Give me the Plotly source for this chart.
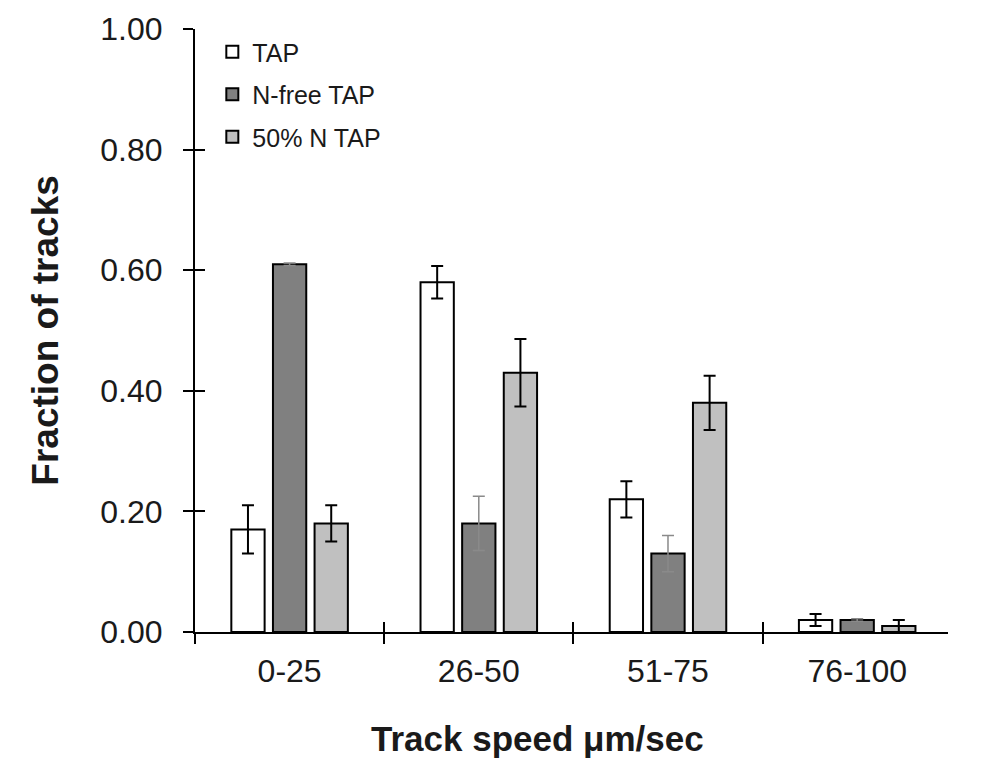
import plotly.graph_objs as go

categories = ["0-25", "26-50", "51-75", "76-100"]
series_names = ["TAP", "N-free TAP", "50% N TAP"]

tap_values = [0.17, 0.58, 0.22, 0.02]
tap_errors = [0.04, 0.027, 0.03, 0.01]

nfree_values = [0.61, 0.18, 0.13, 0.02]
nfree_errors = [0.002, 0.045, 0.03, 0.002]

half_values = [0.18, 0.43, 0.38, 0.01]
half_errors = [0.03, 0.056, 0.045, 0.01]

y_ticks = [0.0, 0.2, 0.4, 0.6, 0.8, 1.0]

FONT = "Liberation Sans, Arial, sans-serif"
TEXT = "#1a1a1a"
X_RANGE = [-0.5, 3.48]
Y_RANGE = [0, 1.0]


def get_bar(name, values, errors, fill, err_color, err_width):
    return go.Bar(
        x=categories, y=values, name=name, legendgroup=name,
        marker=dict(color=fill, line=dict(color="black", width=2)),
        error_y=dict(type="data", array=errors, visible=True,
                     color=err_color, thickness=err_width, width=6),
    )


fig = go.Figure()
fig.add_trace(get_bar(series_names[0], tap_values, tap_errors, "white", "black", 2))
fig.add_trace(get_bar(series_names[1], nfree_values, nfree_errors, "#808080", "#8a8a8a", 1.5))
fig.add_trace(get_bar(series_names[2], half_values, half_errors, "#c0c0c0", "black", 2))

# empty trace on the overlay axes, they only carry the inner half of the crossing ticks
fig.add_trace(go.Bar(x=categories, y=[0, 0, 0, 0], xaxis="x2", yaxis="y2",
                     showlegend=False, hoverinfo="skip",
                     marker=dict(color="rgba(0,0,0,0)", line=dict(width=0))))

tick_style = dict(ticklen=10, tickwidth=2, tickcolor="black")

fig.update_layout(
    width=1000, height=784,
    paper_bgcolor="white", plot_bgcolor="white",
    margin=dict(l=187, r=60, t=21, b=160, autoexpand=False),
    barmode="group", bargap=0.34, bargroupgap=0.2,
    font=dict(family=FONT, color=TEXT, size=24),
    showlegend=True,
    legend=dict(x=0.023, y=1.0, xanchor="left", yanchor="top",
                font=dict(size=25, color=TEXT),
                bgcolor="rgba(0,0,0,0)", tracegroupgap=7,
                itemwidth=30),
    xaxis=dict(
        type="category", range=X_RANGE, automargin=False,
        showline=True, linecolor="black", linewidth=2,
        ticks="outside", tickson="boundaries", **tick_style,
        tickfont=dict(size=32, color=TEXT), ticklabelstandoff=10,
        showgrid=False, zeroline=False,
    ),
    xaxis2=dict(
        type="category", range=X_RANGE, overlaying="x", anchor="y",
        showline=False, showticklabels=False, automargin=False,
        ticks="inside", tickson="boundaries", **tick_style,
        showgrid=False, zeroline=False,
    ),
    yaxis=dict(
        range=Y_RANGE, tickvals=y_ticks, tickformat=".2f", automargin=False,
        showline=True, linecolor="black", linewidth=2,
        ticks="outside", **tick_style,
        tickfont=dict(size=32, color=TEXT), ticklabelstandoff=14,
        ticklabeloverflow="allow",
        showgrid=False, zeroline=False,
    ),
    yaxis2=dict(
        range=Y_RANGE, tickvals=y_ticks, overlaying="y", anchor="x", side="left",
        showline=False, showticklabels=False, automargin=False,
        ticks="inside", **tick_style,
        showgrid=False, zeroline=False,
    ),
    annotations=[
        dict(text="<b>Track speed μm/sec</b>", xref="paper", yref="paper",
             x=0.4555, y=-0.177, xanchor="center", yanchor="middle",
             showarrow=False, font=dict(size=35, color=TEXT)),
        dict(text="<b>Fraction of tracks</b>", xref="paper", yref="paper",
             x=-0.199, y=0.5, xanchor="center", yanchor="middle", textangle=-90,
             showarrow=False, font=dict(size=37, color=TEXT)),
    ],
)

fig.write_html("out.html")
